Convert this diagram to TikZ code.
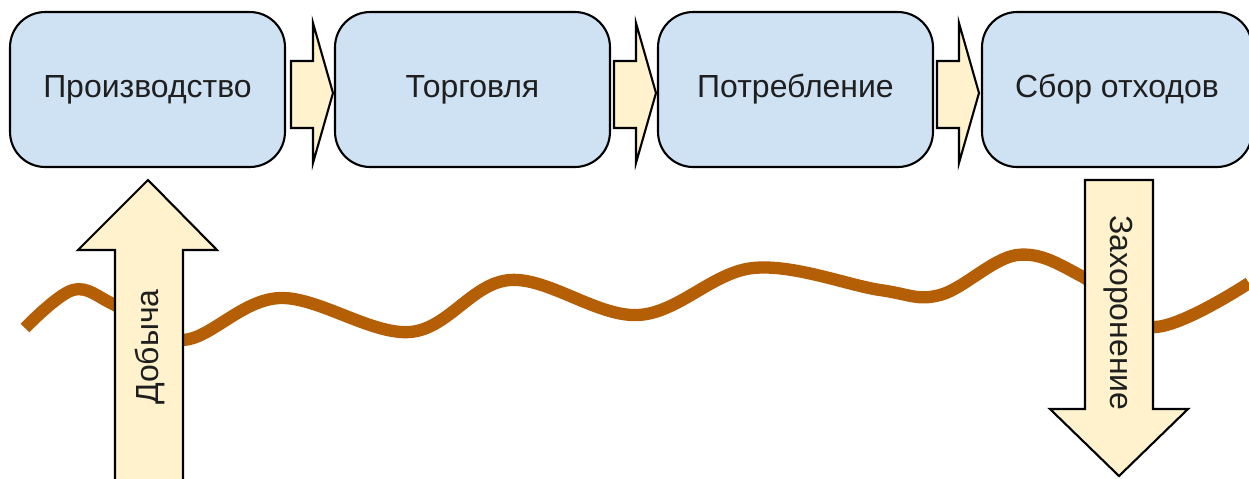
\documentclass[tikz,border=0pt]{standalone}
\usepackage{fontspec}
\setmainfont{Liberation Sans}
\usetikzlibrary{positioning}

\definecolor{boxblue}{HTML}{CFE2F3}
\definecolor{arrowcream}{HTML}{FFF2CC}
\definecolor{soilbrown}{HTML}{B45F06}
\definecolor{inkgray}{HTML}{1F1F1F}

\tikzset{
    stage/.style={draw, fill=boxblue, rounded corners=20, line width=1.2pt,
        minimum width=5.5cm, minimum height=3.1cm, text=inkgray,
        font=\fontsize{18.2}{21}\selectfont},
    flow/.style={draw, fill=arrowcream, line width=1.2pt, line join=miter},
    label/.style={font=\fontsize{18.2}{21}\selectfont, inner sep=0pt, text=inkgray}
}

\begin{document}
\begin{tikzpicture}[x=0.02cm, y=-0.02cm]
        \useasboundingbox (0,0) rectangle (1249,478);
        \clip (0,0) rectangle (1249,478);
        % ground line
        \draw[soilbrown, line width=7pt] plot[smooth, tension=0.6] coordinates
            {(25,328) (73,290) (115,305) (183,340) (280,298) (410,332) (510,280)
             (638,315) (753,268) (880,290) (940,295) (1017,255) (1083,277)
             (1153,327) (1249,283)};
        \node[stage] (prod) at (147.5,89.5) {Производство};
        \node[stage] (trade) at (472.5,89.5) {Торговля};
        \node[stage] (use) at (795.5,89.5) {Потребление};
        \node[stage, minimum width=5.4cm] (waste) at (1117,89.5) {Сбор отходов};
        % arrows between stages
        \foreach \x in {291, 614, 937}
            \draw[flow] (\x,61) -- ++(22,0) -- ++(0,-38) -- ++(20,70)
                -- ++(-20,70) -- ++(0,-35) -- ++(-22,0) -- cycle;
        % extraction
        \draw[flow] (115,500) -- (115,250) -- (78,250) -- (148,180) -- (217,250)
            -- (183,250) -- (183,500) -- cycle;
        \node[label, rotate=90] (dig) at (150,347) {Добыча};
        % burial
        \draw[flow] (1085,180) -- (1153,180) -- (1153,409) -- (1188,409) -- (1119,476)
            -- (1050,409) -- (1085,409) -- cycle;
        \node[label, rotate=-90] (bury) at (1118,313) {Захоронение};
    \end{tikzpicture}
\end{document}
